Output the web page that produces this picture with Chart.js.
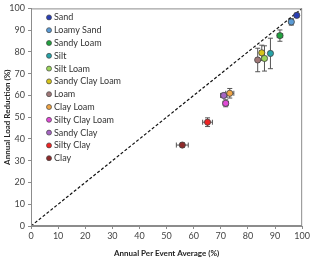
<!DOCTYPE html>
<html>
<head>
<meta charset="utf-8">
<script src="https://cdn.jsdelivr.net/npm/chart.js@4"></script>
<style>
html, body { margin: 0; padding: 0; background: #fff; }
#wrap { width: 312px; height: 258px; }
</style>
</head>
<body>
<div id="wrap"><canvas id="chart" width="312" height="258"></canvas></div>
<script>
const soils = ['Sand', 'Loamy Sand', 'Sandy Loam', 'Silt', 'Silt Loam', 'Sandy Clay Loam', 'Loam', 'Clay Loam', 'Silty Clay Loam', 'Sandy Clay', 'Silty Clay', 'Clay'];
const perEvent = [98, 96, 91.8, 88.3, 86.1, 85.1, 83.6, 73.3, 71.8, 71.1, 65.1, 55.8];
const loadReduction = [96.8, 93.8, 87.5, 79.3, 77, 79.6, 76.3, 61, 56.4, 60, 47.7, 37.2];
const perEventErr = [0.5, 0.8, 1, 0.5, 0.8, 0.8, 0.5, 1.5, 1, 1.2, 1.8, 2.2];
const loadErr = [1, 1.5, 2.6, 7, 5.8, 3.5, 5.4, 2.2, 1.6, 1, 2, 1];
const colors = ['#2a3fb5', '#5b9bd5', '#22a33f', '#27a3a8', '#9bd45a', '#d6c41a', '#a07878', '#f0a545', '#e04ad6', '#a565c2', '#ee2424', '#8e2a2a'];
const tickVals = [0, 10, 20, 30, 40, 50, 60, 70, 80, 90, 100];

const font = "Lato, 'Open Sans', sans-serif";

// error bars, drawn before the points
const errorBars = {
  id: 'errorBars',
  beforeDatasetsDraw(chart) {
    const { ctx, scales: { x, y } } = chart;
    ctx.save();
    ctx.strokeStyle = '#555';
    ctx.lineWidth = 1;
    soils.forEach((s, i) => {
      const px = x.getPixelForValue(perEvent[i]);
      const py = y.getPixelForValue(loadReduction[i]);
      const y1 = y.getPixelForValue(loadReduction[i] + loadErr[i]);
      const y2 = y.getPixelForValue(loadReduction[i] - loadErr[i]);
      const x1 = x.getPixelForValue(perEvent[i] - perEventErr[i]);
      const x2 = x.getPixelForValue(perEvent[i] + perEventErr[i]);
      ctx.beginPath();
      ctx.moveTo(px, y1); ctx.lineTo(px, y2);
      ctx.moveTo(px - 2.5, y1); ctx.lineTo(px + 2.5, y1);
      ctx.moveTo(px - 2.5, y2); ctx.lineTo(px + 2.5, y2);
      ctx.moveTo(x1, py); ctx.lineTo(x2, py);
      ctx.moveTo(x1, py - 2.5); ctx.lineTo(x1, py + 2.5);
      ctx.moveTo(x2, py - 2.5); ctx.lineTo(x2, py + 2.5);
      ctx.stroke();
    });
    ctx.restore();
  }
};

// frame + legend inside plot area
const frameLegend = {
  id: 'frameLegend',
  afterDraw(chart) {
    const { ctx, chartArea: a } = chart;
    ctx.save();
    ctx.strokeStyle = '#8c8c8c';
    ctx.lineWidth = 1;
    ctx.strokeRect(a.left + 0.5, a.top + 0.5, a.right - a.left - 1, a.bottom - a.top - 1);
    ctx.font = '9px ' + font;
    ctx.textBaseline = 'middle';
    soils.forEach((s, i) => {
      const ly = a.top + 9 + i * 12.8;
      ctx.beginPath();
      ctx.arc(a.left + 18, ly, 2.5, 0, Math.PI * 2);
      ctx.fillStyle = colors[i];
      ctx.fill();
      ctx.strokeStyle = '#444';
      ctx.lineWidth = 0.7;
      ctx.stroke();
      ctx.fillStyle = '#333';
      ctx.fillText(s, a.left + 23, ly);
    });
    ctx.restore();
  }
};

const datasets = [{
  type: 'line',
  data: [{ x: 0, y: 0 }, { x: 100, y: 100 }],
  borderColor: '#111',
  borderWidth: 1.2,
  borderDash: [3, 2],
  pointRadius: 0,
  order: 2
}].concat(soils.map((s, i) => ({
  label: s,
  data: [{ x: perEvent[i], y: loadReduction[i] }],
  backgroundColor: colors[i],
  borderColor: '#444',
  borderWidth: 0.8,
  pointRadius: 3.1,
  order: 1
})));

const axisCommon = {
  min: 0, max: 100,
  grid: { drawOnChartArea: false, tickLength: 3, color: '#8c8c8c' },
  border: { color: '#8c8c8c' },
  afterBuildTicks: ax => { ax.ticks = tickVals.map(v => ({ value: v })); }
};

new Chart(document.getElementById('chart'), {
  type: 'scatter',
  data: { datasets },
  options: {
    responsive: false,
    animation: false,
    layout: { padding: { top: 4, right: 8, left: 0, bottom: 0 } },
    plugins: { legend: { display: false }, tooltip: { enabled: false } },
    scales: {
      x: Object.assign({}, axisCommon, {
        ticks: { font: { family: font, size: 9 }, color: '#444', padding: 2 },
        title: { display: true, text: 'Annual Per Event Average (%)', font: { family: font, size: 8, weight: 'bold' }, color: '#222', padding: { top: 4, bottom: 0 } },
        afterFit: ax => { ax.height = 32; }
      }),
      y: Object.assign({}, axisCommon, {
        ticks: { font: { family: font, size: 9 }, color: '#444', padding: 3 },
        title: { display: true, text: 'Annual Load Reduction (%)', font: { family: font, size: 8, weight: 'bold' }, color: '#222', padding: { top: 3, bottom: 1 } },
        afterFit: ax => { ax.width = 31; }
      })
    }
  },
  plugins: [errorBars, frameLegend]
});
</script>
</body>
</html>
